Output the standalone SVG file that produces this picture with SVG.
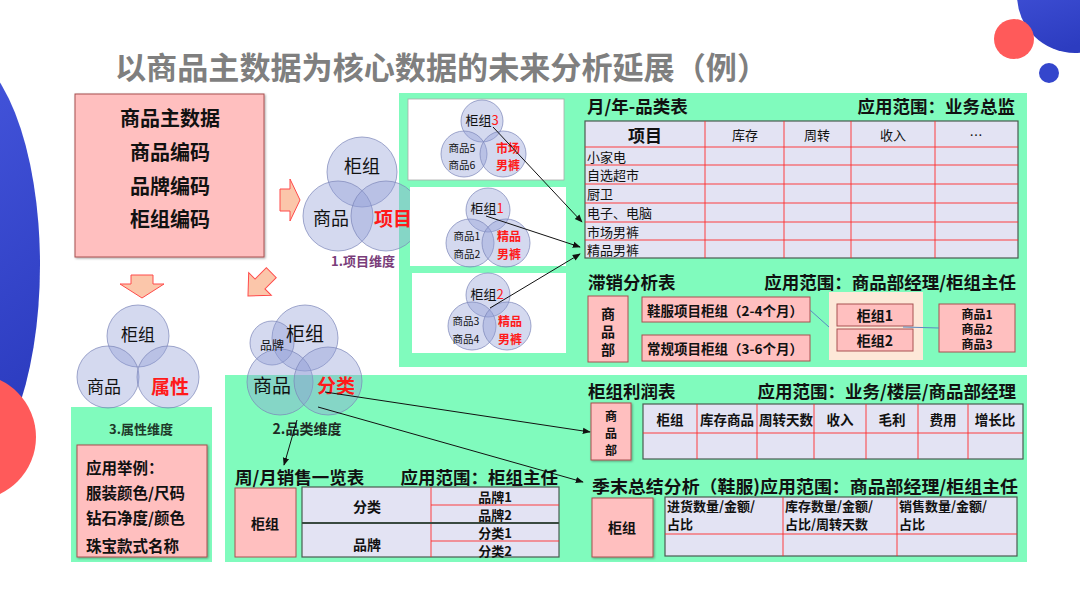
<svg xmlns="http://www.w3.org/2000/svg" width="1080" height="608" viewBox="0 0 1080 608">
<defs>
<linearGradient id="gb" x1="0" y1="0" x2="0.3" y2="1"><stop offset="0" stop-color="#4a5be2"/><stop offset="1" stop-color="#2c3cc0"/></linearGradient>
<filter id="sh" x="-10%" y="-10%" width="130%" height="130%"><feDropShadow dx="1" dy="1" stdDeviation="1" flood-color="#000" flood-opacity="0.35"/></filter>
<marker id="ah" viewBox="0 0 10 10" refX="9" refY="5" markerWidth="8" markerHeight="8" orient="auto" markerUnits="userSpaceOnUse"><path d="M0,1 L10,5 L0,9 z" fill="#111"/></marker>
<style>
text{font-family:"Noto Sans CJK SC","Noto Sans",sans-serif;fill:#111;dominant-baseline:central}
.b{font-weight:bold}
.red{fill:#ff1a1a}
.pk{fill:#ffbfbf;stroke:#a85050;stroke-width:1}
.gr{fill:#80fbbd}
.vc{fill:#8f9ad6;fill-opacity:0.38;stroke:#7a84b8;stroke-opacity:0.7;stroke-width:1}
.tb{fill:#e3e3f3;stroke:#4a5a50;stroke-width:1.2}
.rl{stroke:#ff2a2a;stroke-width:0.9;fill:none}
.ba{fill:#fbc6aa;stroke:#ff4a4a;stroke-width:1}
.con{stroke:#111;stroke-width:1;fill:none;marker-end:url(#ah)}
.bl{stroke:#5a8ac0;stroke-width:1;fill:none}
.t{font-size:17.5px;font-weight:bold}
</style>
</defs>
<g id="decor">
<ellipse cx="-45" cy="265" rx="85" ry="215" fill="url(#gb)"/>
<circle cx="-27" cy="437" r="63" fill="#ff5a5a"/>
<circle cx="1075" cy="-5" r="58" fill="url(#gb)"/>
<circle cx="1014" cy="39" r="20" fill="#ff5a5a"/>
<circle cx="1049" cy="73" r="10" fill="#3446cc"/>
</g>
<text id="title" x="115" y="65" class="b" style="font-size:31px;fill:#7f7f7f" textLength="653" lengthAdjust="spacingAndGlyphs">以商品主数据为核心数据的未来分析延展（例）</text>
<g id="panels">
<rect class="gr" x="399" y="93" width="628" height="274"/>
<rect class="gr" x="225" y="375" width="802" height="187"/>
<rect class="gr" x="71" y="407" width="141" height="155"/>
</g>
<g id="master">
<rect class="pk" x="75" y="94" width="189" height="163" filter="url(#sh)"/>
<text x="170" y="117" class="b" text-anchor="middle" style="font-size:20px">商品主数据</text>
<text x="170" y="151" class="b" text-anchor="middle" style="font-size:20px">商品编码</text>
<text x="170" y="185" class="b" text-anchor="middle" style="font-size:20px">品牌编码</text>
<text x="170" y="218" class="b" text-anchor="middle" style="font-size:20px">柜组编码</text>
</g>
<g id="block-arrows">
<polygon class="ba" points="280,189 290,189 290,179 300,200 290,221 290,211 280,211"/>
<polygon class="ba" points="131,275 153,275 153,284 164,284 142,298 120,284 131,284"/>
<polygon class="ba" points="-16,-7 0,-7 0,-16 17,0 0,16 0,7 -16,7" transform="translate(260,284) rotate(135)"/>
</g>
<g id="venn-item">
<circle class="vc" cx="362" cy="172" r="35"/>
<circle class="vc" cx="338" cy="216" r="35"/>
<circle class="vc" cx="386" cy="216" r="35"/>
<text x="362" y="165" text-anchor="middle" style="font-size:18px">柜组</text>
<text x="331" y="217" text-anchor="middle" style="font-size:18px">商品</text>
<text x="393" y="217" text-anchor="middle" class="b red" style="font-size:19px">项目</text>
<text x="363" y="260" text-anchor="middle" class="b" style="font-size:13px;fill:#7a3d7a">1.项目维度</text>
</g>
<g id="counter3">
<rect x="408" y="99" width="156" height="81" fill="#fff" stroke="#aaa" stroke-width="0.8"/>
<circle class="vc" cx="482" cy="121" r="21"/>
<circle class="vc" cx="464" cy="154" r="23"/>
<circle class="vc" cx="503" cy="154" r="23"/>
<text x="482" y="119" text-anchor="middle" style="font-size:13px">柜组<tspan class="red">3</tspan></text>
<text x="462" y="147" text-anchor="middle" style="font-size:10.5px">商品5</text>
<text x="462" y="164" text-anchor="middle" style="font-size:10.5px">商品6</text>
<text x="508" y="147" text-anchor="middle" class="b red" style="font-size:12px">市场</text>
<text x="508" y="164" text-anchor="middle" class="b red" style="font-size:12px">男裤</text>
</g>
<g id="counter1">
<rect x="410" y="187" width="156" height="79" fill="#fff"/>
<circle class="vc" cx="488" cy="210" r="22"/>
<circle class="vc" cx="470" cy="243" r="24"/>
<circle class="vc" cx="506" cy="243" r="24"/>
<text x="487" y="207" text-anchor="middle" style="font-size:13px">柜组<tspan class="red">1</tspan></text>
<text x="467" y="235" text-anchor="middle" style="font-size:10.5px">商品1</text>
<text x="467" y="253" text-anchor="middle" style="font-size:10.5px">商品2</text>
<text x="509" y="235" text-anchor="middle" class="b red" style="font-size:12px">精品</text>
<text x="509" y="253" text-anchor="middle" class="b red" style="font-size:12px">男裤</text>
</g>
<g id="counter2">
<rect x="412" y="273" width="154" height="80" fill="#fff"/>
<circle class="vc" cx="488" cy="295" r="22"/>
<circle class="vc" cx="472" cy="326" r="24"/>
<circle class="vc" cx="507" cy="326" r="24"/>
<text x="487" y="293" text-anchor="middle" style="font-size:13px">柜组<tspan class="red">2</tspan></text>
<text x="466" y="320" text-anchor="middle" style="font-size:10.5px">商品3</text>
<text x="466" y="338" text-anchor="middle" style="font-size:10.5px">商品4</text>
<text x="510" y="320" text-anchor="middle" class="b red" style="font-size:12px">精品</text>
<text x="510" y="338" text-anchor="middle" class="b red" style="font-size:12px">男裤</text>
</g>
<g id="table-category">
<text x="587" y="105" class="t">月/年-品类表</text>
<text x="1015" y="105" class="t" text-anchor="end">应用范围：业务总监</text>
<rect class="tb" x="585" y="121" width="433" height="137"/>
<path class="rl" d="M705,121V258M784,121V258M851,121V258M935,121V258M585,147H1018M585,165H1018M585,184H1018M585,203H1018M585,222H1018M585,240H1018"/>
<text x="645" y="134" class="b" text-anchor="middle" style="font-size:17px">项目</text>
<text x="745" y="134" text-anchor="middle" style="font-size:13px">库存</text>
<text x="817" y="134" text-anchor="middle" style="font-size:13px">周转</text>
<text x="893" y="134" text-anchor="middle" style="font-size:13px">收入</text>
<text x="976" y="134" text-anchor="middle" style="font-size:13px">…</text>
<text x="587" y="156" style="font-size:13px">小家电</text>
<text x="587" y="174.5" style="font-size:13px">自选超市</text>
<text x="587" y="193.5" style="font-size:13px">厨卫</text>
<text x="587" y="212.5" style="font-size:13px">电子、电脑</text>
<text x="587" y="231" style="font-size:13px">市场男裤</text>
<text x="587" y="249" style="font-size:13px">精品男裤</text>
</g>
<g id="table-slow">
<text x="588" y="281" class="t">滞销分析表</text>
<text x="1016" y="281" class="t" text-anchor="end">应用范围：商品部经理/柜组主任</text>
<rect class="pk" x="588" y="296" width="40" height="66"/>
<text x="608" y="313" class="b" text-anchor="middle" style="font-size:14px">商</text>
<text x="608" y="331" class="b" text-anchor="middle" style="font-size:14px">品</text>
<text x="608" y="349" class="b" text-anchor="middle" style="font-size:14px">部</text>
<rect class="pk" x="642" y="297" width="168" height="25"/>
<text x="647" y="309.5" class="b" style="font-size:13.5px">鞋服项目柜组（2-4个月）</text>
<rect class="pk" x="642" y="335" width="168" height="26"/>
<text x="647" y="348" class="b" style="font-size:13.5px">常规项目柜组（3-6个月）</text>
<rect x="829" y="292" width="94" height="68" fill="#fde8d8"/>
<rect class="pk" x="837" y="304" width="76" height="22"/>
<text x="875" y="315" class="b" text-anchor="middle" style="font-size:14px">柜组1</text>
<rect class="pk" x="837" y="329" width="76" height="22"/>
<text x="875" y="340" class="b" text-anchor="middle" style="font-size:14px">柜组2</text>
<rect class="pk" x="939" y="304" width="76" height="48"/>
<text x="977" y="313" class="b" text-anchor="middle" style="font-size:12px">商品1</text>
<text x="977" y="328" class="b" text-anchor="middle" style="font-size:12px">商品2</text>
<text x="977" y="343" class="b" text-anchor="middle" style="font-size:12px">商品3</text>
</g>
<g id="venn-attr">
<circle class="vc" cx="138" cy="336" r="31"/>
<circle class="vc" cx="108" cy="377" r="31"/>
<circle class="vc" cx="168" cy="377" r="31"/>
<text x="138" y="333" text-anchor="middle" style="font-size:17px">柜组</text>
<text x="104" y="385" text-anchor="middle" style="font-size:17px">商品</text>
<text x="170" y="385" text-anchor="middle" class="b red" style="font-size:19px">属性</text>
<text x="141" y="428" text-anchor="middle" class="b" style="font-size:13px;fill:#1f3a2a">3.属性维度</text>
</g>
<g id="attr-examples">
<rect class="pk" x="77" y="445" width="130" height="112" filter="url(#sh)"/>
<text x="86" y="467" class="b" style="font-size:15.5px">应用举例：</text>
<text x="86" y="492" class="b" style="font-size:15.5px">服装颜色/尺码</text>
<text x="86" y="517" class="b" style="font-size:15.5px">钻石净度/颜色</text>
<text x="86" y="545" class="b" style="font-size:15.5px">珠宝款式名称</text>
</g>
<g id="venn-class">
<circle class="vc" cx="305" cy="338" r="33"/>
<circle class="vc" cx="272" cy="343" r="22"/>
<circle class="vc" cx="280" cy="382" r="33"/>
<circle class="vc" cx="328" cy="381" r="34"/>
<text x="305" y="332" text-anchor="middle" style="font-size:19px">柜组</text>
<text x="272" y="344" text-anchor="middle" style="font-size:12px">品牌</text>
<text x="272" y="384" text-anchor="middle" style="font-size:19px">商品</text>
<text x="336" y="384" text-anchor="middle" class="b red" style="font-size:19px">分类</text>
<text x="307" y="428" text-anchor="middle" class="b" style="font-size:14px;fill:#1f2a24">2.品类维度</text>
</g>
<g id="table-profit">
<text x="588" y="390" class="t">柜组利润表</text>
<text x="1016" y="390" class="t" text-anchor="end">应用范围：业务/楼层/商品部经理</text>
<rect class="pk" x="591" y="403" width="40" height="57" filter="url(#sh)"/>
<text x="611" y="415" class="b" text-anchor="middle" style="font-size:12px">商</text>
<text x="611" y="432" class="b" text-anchor="middle" style="font-size:12px">品</text>
<text x="611" y="449" class="b" text-anchor="middle" style="font-size:12px">部</text>
<rect class="tb" x="643" y="404" width="380" height="55"/>
<path class="rl" d="M697,404V459M757,404V459M814,404V459M866,404V459M918,404V459M968,404V459M643,433H1023"/>
<text x="670" y="419" class="b" text-anchor="middle" style="font-size:13.5px">柜组</text>
<text x="727" y="419" class="b" text-anchor="middle" style="font-size:13.5px">库存商品</text>
<text x="786" y="419" class="b" text-anchor="middle" style="font-size:13.5px">周转天数</text>
<text x="840" y="419" class="b" text-anchor="middle" style="font-size:13.5px">收入</text>
<text x="892" y="419" class="b" text-anchor="middle" style="font-size:13.5px">毛利</text>
<text x="943" y="419" class="b" text-anchor="middle" style="font-size:13.5px">费用</text>
<text x="995" y="419" class="b" text-anchor="middle" style="font-size:13.5px">增长比</text>
</g>
<g id="table-weekly">
<text x="235" y="476" class="t">周/月销售一览表</text>
<text x="558" y="476" class="t" text-anchor="end">应用范围：柜组主任</text>
<rect class="pk" x="235" y="488" width="61" height="69"/>
<text x="265" y="523" class="b" text-anchor="middle" style="font-size:14px">柜组</text>
<rect class="tb" x="302" y="487" width="257" height="70"/>
<path class="rl" d="M431,487V557M431,505H559M431,541H559"/>
<path d="M302,523H559" stroke="#3a4a40" stroke-width="2"/>
<text x="367" y="506" class="b" text-anchor="middle" style="font-size:14px">分类</text>
<text x="367" y="544" class="b" text-anchor="middle" style="font-size:14px">品牌</text>
<text x="495" y="496" class="b" text-anchor="middle" style="font-size:13px">品牌1</text>
<text x="495" y="514.5" class="b" text-anchor="middle" style="font-size:13px">品牌2</text>
<text x="495" y="532.5" class="b" text-anchor="middle" style="font-size:13px">分类1</text>
<text x="495" y="550" class="b" text-anchor="middle" style="font-size:13px">分类2</text>
</g>
<g id="table-season">
<text x="592" y="485" class="t" textLength="426" lengthAdjust="spacingAndGlyphs">季末总结分析（鞋服)应用范围：商品部经理/柜组主任</text>
<rect class="pk" x="592" y="498" width="61" height="59" filter="url(#sh)"/>
<text x="622" y="527" class="b" text-anchor="middle" style="font-size:14px">柜组</text>
<rect class="tb" x="665" y="497" width="352" height="59"/>
<path class="rl" d="M783,497V556M897,497V556M665,534H1017"/>
<text x="667" y="505" class="b" style="font-size:13px">进货数量/金额/</text>
<text x="667" y="523" class="b" style="font-size:13px">占比</text>
<text x="785" y="505" class="b" style="font-size:13px">库存数量/金额/</text>
<text x="785" y="523" class="b" style="font-size:13px">占比/周转天数</text>
<text x="899" y="505" class="b" style="font-size:13px">销售数量/金额/</text>
<text x="899" y="523" class="b" style="font-size:13px">占比</text>
</g>
<g id="connectors">
<path class="con" d="M493,127 L582,222"/>
<path class="con" d="M486,216 L580,247"/>
<path class="con" d="M490,308 L580,254"/>
<path class="bl" d="M810,310 L829,327"/>
<path class="bl" d="M903,327 L939,328"/>
<path class="con" d="M325,392 L590,432"/>
<path class="con" d="M318,407 L583,482"/>
<path class="con" d="M297,420 L284,465"/>
</g>
</svg>
